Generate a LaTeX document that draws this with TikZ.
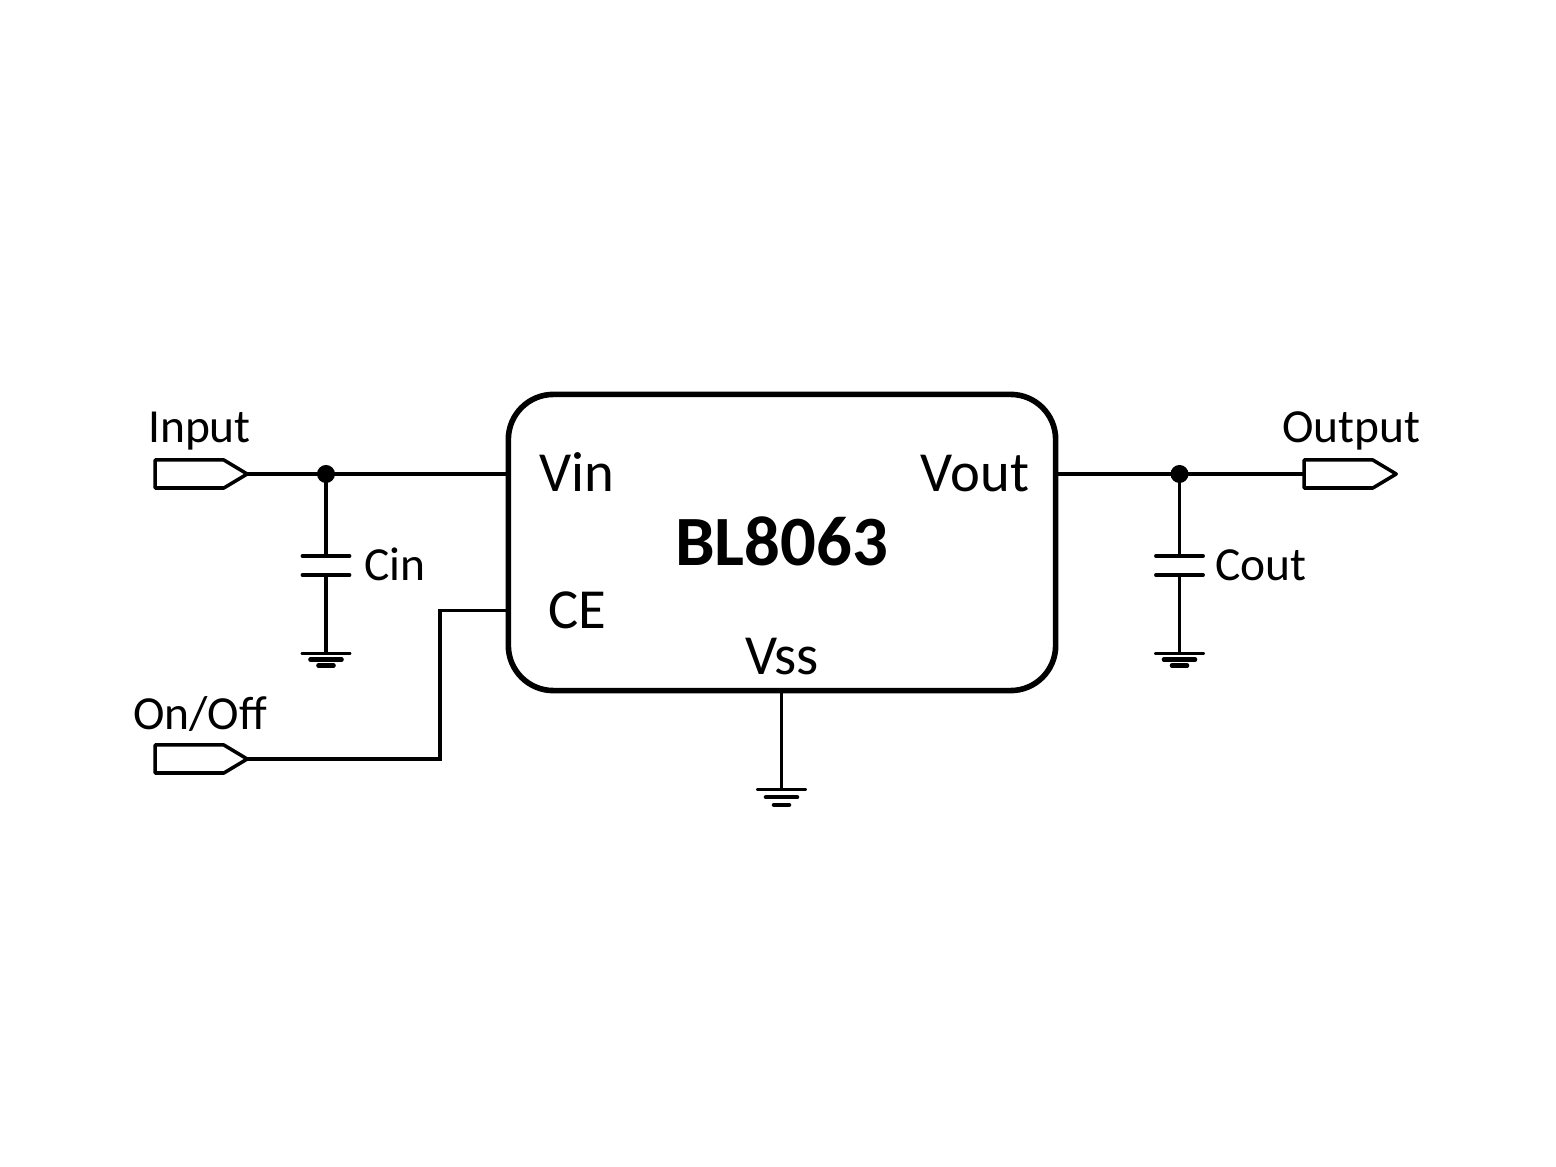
\documentclass[tikz,border=0pt]{standalone}
\usepackage{fontspec}
\setmainfont{Carlito}
\usetikzlibrary{shapes.symbols}
\tikzstyle{chip} = [draw,line width=1.6pt,rounded corners=0.45cm,minimum width=5.47cm,minimum height=2.96cm,inner sep=0pt,outer sep=0pt]
\tikzstyle{port} = [draw,line width=1pt,signal,signal to=east,signal pointer angle=62,minimum height=0.28cm,minimum width=0.92cm,inner sep=0pt,outer sep=0pt,line join=round]
\tikzstyle{wire} = [draw,line width=1.1pt]
\tikzstyle{plate} = [draw,line width=1.1pt,line cap=round]
\tikzstyle{junction} = [circle,fill=black,minimum size=0.18cm,inner sep=0pt,outer sep=0pt]
\tikzstyle{label} = [font=\fontsize{13.5}{16}\selectfont,inner sep=0pt]
\tikzstyle{pinlabel} = [font=\fontsize{16.1}{19}\selectfont,inner sep=0pt]

\begin{document}
\begin{tikzpicture}[x=0.01cm,y=-0.01cm]
    \useasboundingbox (0,0) rectangle (1556,1167);

    \node[chip] (U1) at (782,542.5) {};
    \node[font=\fontsize{20.1}{24}\selectfont\bfseries,inner sep=0pt] (part) at (781.5,541) {BL8063};
    \node[pinlabel] (vin) at (577,472) {Vin};
    \node[pinlabel] (vout) at (975,474) {Vout};
    \node[pinlabel] (ce) at (577,610) {CE};
    \node[pinlabel] (vss) at (782,657) {Vss};

    % ports
    \foreach \name/\x/\y in {pIn/189.5/474, pOut/1338.5/474, pOn/189.5/759}
        \node[port] (\name) at (\x,\y) {};
    \node[label] (lIn) at (199.5,431) {Input};
    \node[label] (lOut) at (1351.5,431) {Output};
    \node[label] (lOn) at (200,714) {On/Off};

    % junctions and capacitors
    \foreach \name/\x in {C1/326, C2/1179.5} {
        \node[junction] (j\name) at (\x,474) {};
        \coordinate (t\name) at (\x,556);
        \coordinate (b\name) at (\x,575);
        \coordinate (g\name) at (\x,653.5);
        \path[wire] (j\name.center) -- (t\name);
        \path[wire] (b\name) -- (g\name);
        \path[plate] ([xshift=-0.235cm]t\name) -- ([xshift=0.235cm]t\name);
        \path[plate] ([xshift=-0.235cm]b\name) -- ([xshift=0.235cm]b\name);
    }
    \node[label,anchor=west] (lC1) at (363.5,564) {Cin};
    \node[label,anchor=west] (lC2) at (1214.5,565) {Cout};

    % wires
    \coordinate (ceBend) at (440,610.5);
    \coordinate (onBend) at (440,759);
    \coordinate (vssPin) at (781.5,690);
    \coordinate (gU) at (781.5,789.5);
    \path[wire] (pIn.east) -- (jC1.center) -- (U1.west |- jC1.center);
    \path[wire] (U1.east |- jC2.center) -- (jC2.center) -- (pOut.west);
    \path[wire,line width=1pt] (U1.west |- ceBend) -- (ceBend) -- (onBend) -- (pOn.east);
    \path[wire] (vssPin) -- (gU);

    % grounds
    \foreach \g/\dy in {gC1/0.06, gC2/0.06, gU/0.077} {
        \path[plate] ([xshift=-0.235cm]\g) -- ([xshift=0.235cm]\g);
        \path[plate,line width=1.3pt] ([xshift=-0.155cm,yshift=-\dy cm]\g) -- ([xshift=0.155cm,yshift=-\dy cm]\g);
        \path[plate,line width=1.3pt] ([xshift=-0.075cm,yshift=-2*\dy cm]\g) -- ([xshift=0.075cm,yshift=-2*\dy cm]\g);
    }
\end{tikzpicture}
\end{document}
